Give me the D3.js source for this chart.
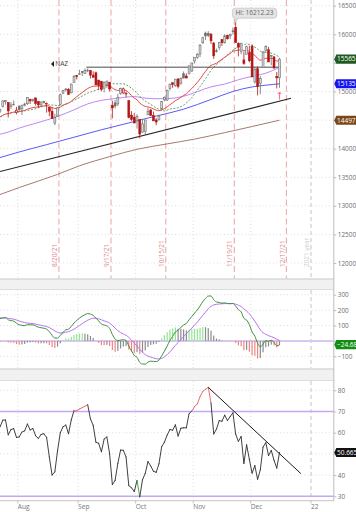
<!DOCTYPE html>
<html><head><meta charset="utf-8">
<script src="https://cdn.jsdelivr.net/npm/d3@7/dist/d3.min.js"></script>
<style>html,body{margin:0;padding:0;background:#fff}svg{display:block}text{font-family:"Open Sans","DejaVu Sans",sans-serif}</style>
</head><body><svg id="chart" width="356" height="512"></svg>
<script>
// ---------- DATA (Nasdaq Composite, daily, bar index 0 = 2021-07-21) ----------
const dates = ["2021-07-21","2021-07-22","2021-07-23","2021-07-26","2021-07-27","2021-07-28","2021-07-29","2021-07-30",
"2021-08-02","2021-08-03","2021-08-04","2021-08-05","2021-08-06","2021-08-09","2021-08-10","2021-08-11","2021-08-12","2021-08-13","2021-08-16","2021-08-17","2021-08-18","2021-08-19","2021-08-20","2021-08-23","2021-08-24","2021-08-25","2021-08-26","2021-08-27","2021-08-30","2021-08-31",
"2021-09-01","2021-09-02","2021-09-03","2021-09-07","2021-09-08","2021-09-09","2021-09-10","2021-09-13","2021-09-14","2021-09-15","2021-09-16","2021-09-17","2021-09-20","2021-09-21","2021-09-22","2021-09-23","2021-09-24","2021-09-27","2021-09-28","2021-09-29","2021-09-30",
"2021-10-01","2021-10-04","2021-10-05","2021-10-06","2021-10-07","2021-10-08","2021-10-11","2021-10-12","2021-10-13","2021-10-14","2021-10-15","2021-10-18","2021-10-19","2021-10-20","2021-10-21","2021-10-22","2021-10-25","2021-10-26","2021-10-27","2021-10-28","2021-10-29",
"2021-11-01","2021-11-02","2021-11-03","2021-11-04","2021-11-05","2021-11-08","2021-11-09","2021-11-10","2021-11-11","2021-11-12","2021-11-15","2021-11-16","2021-11-17","2021-11-18","2021-11-19","2021-11-22","2021-11-23","2021-11-24","2021-11-26","2021-11-29","2021-11-30",
"2021-12-01","2021-12-02","2021-12-03","2021-12-06","2021-12-07","2021-12-08","2021-12-09","2021-12-10","2021-12-13","2021-12-14","2021-12-15"];
const open = [14548,14656,14740,14819,14808,14735,14777,14630,
14741,14697,14756,14786,14860,14860,14888,14826,14765,14825,14788,14719,14653,14447,14571,14773,14972,15032,15035,14975,15159,15278,
15300,15346,15318,15364,15365,15286,15327,15200,15177,15058,15124,15161,14758,14800,14783,14963,14975,14963,14839,14586,14549,
14485,14510,14290,14302,14592,14676,14577,14502,14507,14694,14854,14850,15052,15153,15100,15219,15144,15310,15270,15313,15358,
15534,15594,15656,15853,16020,16017,16003,15848,15713,15770,15908,15850,15981,15972,16060,16123,15839,15700,15552,15652,15678,
15788,15165,15397,15140,15420,15717,15730,15620,15604,15265,15240];
const high = [14636,14701,14840,14844,14812,14815,14843,14732,
14761,14764,14803,14897,14875,14874,14890,14827,14824,14836,14806,14727,14722,14609,14729,14963,15026,15061,15058,15137,15288,15283,
15379,15356,15403,15403,15367,15353,15349,15201,15186,15176,15188,15165,14841,14852,14958,15066,15070,14997,14840,14656,14625,
14601,14510,14518,14504,14714,14695,14650,14532,14591,14828,14913,15030,15134,15155,15217,15232,15244,15351,15317,15452,15504,
15598,15675,15828,15957,16047,16057,16018,15862,15751,15866,15909,15998,15992,16011,16120,16212.23,15859,15848,15695,15800,15800,
15822,15430,15440,15271,15710,15808,15780,15640,15620,15340,15589];
const low = [14540,14620,14720,14770,14546,14695,14763,14600,
14649,14588,14739,14764,14781,14817,14755,14718,14733,14787,14631,14568,14520,14410,14557,14765,14952,15001,14944,14971,15158,15210,
15290,15270,15306,15337,15228,15248,15113,15025,15002,14985,15063,14998,14530,14702,14743,14941,14953,14898,14530,14486,14446,
14350,14181,14275,14236,14591,14570,14484,14410,14488,14690,14828,14835,15018,15064,15080,15053,15120,15228,15232,15296,15342,
15490,15569,15601,15831,15901,15949,15830,15570,15680,15726,15796,15843,15910,15916,15997,15851,15614,15651,15466,15650,15511,
15253,15141,14931,14952,15420,15672,15516,15458,15392,15053,15064];
const close = [14631.95,14684.60,14836.99,14840.71,14660.58,14762.58,14778.26,14672.68,
14681.07,14761.29,14780.53,14895.12,14835.76,14860.18,14788.09,14765.14,14816.26,14822.90,14793.76,14656.18,14525.91,14541.79,14714.66,14942.65,15019.80,15041.86,14945.81,15129.50,15265.89,15259.24,
15309.38,15331.18,15363.52,15374.33,15286.64,15248.25,15115.49,15105.58,15037.76,15161.53,15181.92,15043.97,14713.90,14746.40,14896.85,15052.24,15047.70,14969.97,14546.68,14512.44,14448.58,
14566.70,14255.49,14433.83,14501.91,14654.02,14579.54,14486.20,14465.92,14571.64,14823.43,14897.34,15021.81,15129.09,15121.68,15215.70,15090.20,15226.71,15235.84,15235.72,15448.12,15498.39,
15595.92,15649.60,15811.58,15940.31,15971.59,15982.36,15886.54,15622.71,15704.28,15860.96,15853.85,15973.86,15921.57,15993.71,16057.44,15854.76,15775.14,15845.23,15491.66,15782.83,15537.69,
15254.05,15381.32,15085.47,15225.15,15686.92,15786.99,15517.37,15630.60,15413.28,15237.64,15565.58];
// moving averages
const ema20 = [14539.7,14553.5,14580.4,14605.1,14610.4,14624.9,14639.5,14642.7,
14646.3,14657.2,14668.9,14690.4,14704.2,14719.0,14725.6,14729.4,14737.7,14745.8,14750.4,14741.4,14720.9,14703.9,14704.9,14727.5,14755.3,14782.5,14798.0,14829.5,14871.0,14907.9,
14946.0,14982.6,15018.8,15052.6,15074.8,15091.3,15093.6,15094.7,15089.3,15096.2,15104.3,15098.6,15062.1,15032.1,15019.2,15022.3,15024.7,15019.5,14974.6,14930.7,14884.9,
14854.7,14797.8,14763.2,14738.4,14730.4,14716.1,14694.3,14672.6,14663.0,14678.2,14699.0,14729.7,14767.6,14801.2,14840.6,14864.3,14898.7,14930.7,14959.7,15006.1,15052.9,
15104.5,15156.3,15218.6,15287.2,15352.2,15412.1,15457.2,15472.9,15494.9,15529.7,15560.5,15599.8,15630.4,15664.9,15702.2,15716.7,15722.2,15733.9,15710.9,15717.7,15700.6,
15658.2,15631.9,15580.0,15546.3,15559.7,15581.3,15575.2,15580.5,15564.6,15533.5,15536.5];
const sma20Bar = [0,1,3,8,13,18,19,23,28,33,38,41,43,46,48,51,53,56,58,61,63,66,68,71,73,76,78,81,83,86,88,90,91,93,95,96,98,99,101,103];
const sma20Val = [14536,14557,14604,14647,14687,14758,14766,14753,14845,14970,15061,15144,15134,15134,15090,14971,14869,14773,14713,14659,14693,14715,14762,14895,15022,15222,15368,15512,15596,15724,15782,15815,15829,15806,15742,15705,15685,15680,15653,15602];
const sma50Bar = [0,4,8,13,18,22,28,33,38,43,50,53,58,63,68,73,78,83,88,93,98,103];
const sma50Val = [14240,14290,14360,14430,14500,14563,14679,14783,14845,14876,14911,14889,14872,14878,14916,14997,15081,15129,15205,15266,15319,15422];
const sma100Bar = [0,8,18,28,38,48,52,58,68,78,86,93,98,103];
const sma100Val = [13830,13942,14070,14200,14330,14450,14500,14570,14690,14860,15000,15080,15110,15135];
const sma200Bar = [0,8,22,30,41,51,62,72,83,93,103];
const sma200Val = [13180,13320,13550,13700,13860,13989,14083,14167,14280,14387,14497];
// MACD(12,26,9)
const macd = [152.2,144.5,149,151.2,136.8,132.1,128.2,115.2,
104.4,101.1,99,105.3,104.3,104.3,97.4,89,85.6,82.3,76.5,60.2,36.3,18.4,18,35.6,55.1,71.6,76,93.2,116.5,132.9,
148.2,160.3,170.5,177.4,173.9,166,147.4,130.4,110.1,102.8,97.6,81.4,41.5,12.3,1.3,5,7.5,3.2,-33.9,-65.4,-94.4,
-106.6,-139.7,-149.9,-150.8,-137.6,-131.7,-133,-134.1,-125,-96.3,-66.9,-33.2,2.2,29.3,57.7,69.3,88.5,103.2,113.5,137.3,158.3,
180.8,200.6,226.7,254.9,276.5,291.2,291.8,267.8,252.5,250.1,244.8,247.4,242.5,241.6,243.2,225.6,202.9,188.4,146.6,135.4,105.6,
58.4,30.9,-14.6,-38.9,-20.7,1.8,-2.1,3.9,-8.8,-32.6,-24.68];
const signal = [150.4,149.2,149.2,149.6,147.0,144.0,140.9,135.8,
129.5,123.8,118.8,116.1,113.8,111.9,109.0,105.0,101.1,97.4,93.2,86.6,76.5,64.9,55.5,51.5,52.2,56.1,60.1,66.7,76.7,87.9,
100.0,112.0,123.7,134.4,142.3,147.0,147.1,143.8,137.0,130.2,123.7,115.2,100.5,82.9,66.6,54.3,44.9,36.6,22.5,4.9,-14.9,
-33.2,-54.5,-73.6,-89.0,-98.7,-105.3,-110.8,-115.5,-117.4,-113.2,-103.9,-89.8,-71.4,-51.3,-29.5,-9.7,9.9,28.6,45.6,63.9,82.8,
102.4,122.0,142.9,165.3,187.5,208.2,224.9,233.5,237.3,239.9,240.9,242.2,242.3,242.2,242.4,239.0,231.8,223.1,207.8,193.3,175.8,
152.3,128.0,99.5,71.8,53.3,43.0,34.0,28.0,20.6,10.0,3.0];
// RSI(14)
const rsi = [61.5,62.7,65.9,66.0,59.0,61.5,61.9,57.8,
58.0,60.3,60.9,64.1,61.3,62.0,58.5,57.3,59.2,59.5,57.8,48.5,40.0,41.5,51.5,60.0,62.8,63.6,59.5,66.0,70.4,70.3,
71.2,71.8,72.5,73.2,66.5,63.5,55.5,55.0,51.0,57.0,58.0,50.0,35.5,37.5,45.5,51.8,51.7,48.5,35.0,34.0,32.2,
37.5,29.7,37.8,40.8,46.4,44.3,41.8,41.3,45.3,53.4,55.5,58.9,61.5,61.2,63.7,58.4,62.1,62.3,62.3,69.0,70.2,
72.3,73.5,77.0,79.5,80.5,81.4,74.0,59.4,61.7,65.7,65.4,68.3,65.7,67.6,69.4,59.3,55.9,58.2,45.5,54.3,47.4,
40.9,44.5,38.0,42.5,53.2,55.3,49.2,51.6,47.0,43.3,50.665];
// axis / annotation data
const monthNames = ["Aug","Sep","Oct","Nov","Dec","22"];
const monthFirstBar = [8,30,51,72,93,115];
const eventLabels = ["8/20/21","9/17/21","10/15/21","11/19/21","12/17/21"];
const eventBar = [22,41,61,86,105];
const priceTicks = [12000,12500,13000,13500,14000,14500,15000,15500,16000,16500];
const priceLabelTicks = [12000,12500,13000,13500,14000,15000,16000,16500];
const macdTicks = [-100,0,100,200,300];
const macdLabelTicks = [-100,100,200,300];
const rsiTicks = [30,40,50,60,70,80];
const rsiLabelTicks = [30,40,60,70,80];
const trendBar = [1,107.2], trendVal = [13600,14880];
const resistBar = [32.5,103.5], resistVal = [15425,15425];
const rsiTrendBar = [77,110.8], rsiTrendVal = [81.4,40.7];
const hiBar = 87, hiValue = 16212.23;
const lastClose = 15565.58, lastSma100 = 15135, lastSma200 = 14497;
const lastMacd = -24.68, lastRsi = 50.665;

// ---------- LAYOUT ----------
const svg = d3.select("#chart");
const AX = 333.8;
const x = d3.scaleLinear().domain([8, 108]).range([19.2, 293.2]);
const yP = d3.scaleLinear().domain([12000, 16000]).range([263, 34.3]);
const yM = d3.scaleLinear().domain([-100, 300]).range([356.3, 294.7]);
const yR = d3.scaleLinear().domain([30, 80]).range([496.3, 390.3]);
const panels = {main:[0,278.5], macd:[290,368.5], rsi:[381,500.7]};

svg.append("rect").attr("width",356).attr("height",512).attr("fill","#fff");
const defs = svg.append("defs");
Object.entries(panels).forEach(([k,[a,b]])=>{
  defs.append("clipPath").attr("id","clip-"+k).append("rect").attr("x",0).attr("y",a).attr("width",AX).attr("height",b-a);
});
// header strips
[[278.5,290],[368.5,381]].forEach(([a,b])=>{
  svg.append("rect").attr("x",0).attr("y",a).attr("width",AX).attr("height",b-a).attr("fill","#f1f1f1");
  svg.append("line").attr("x1",0).attr("x2",AX).attr("y1",a+0.5).attr("y2",a+0.5).attr("stroke","#cccccc");
  svg.append("line").attr("x1",0).attr("x2",AX).attr("y1",b-0.5).attr("y2",b-0.5).attr("stroke","#dddddd");
});

const gridCol = "#d4d4d4";
function vGrid(panel){
  const [a,b] = panels[panel];
  const g = svg.append("g").attr("clip-path",`url(#clip-${panel})`);
  monthFirstBar.forEach((m,i)=>{
    const isYear = i===monthFirstBar.length-1;
    g.append("line").attr("x1",x(m-0.5)).attr("x2",x(m-0.5)).attr("y1",a).attr("y2",b)
      .attr("stroke", isYear ? "#c4c4c4" : gridCol).attr("stroke-width", isYear?1:0.8)
      .attr("stroke-dasharray", isYear ? "4,3" : "1,2.5");
  });
  return g;
}
function hGrid(panel, scale, ticks, skip){
  const g = svg.append("g").attr("clip-path",`url(#clip-${panel})`);
  ticks.filter(t=>!skip.includes(t)).forEach(t=>{
    g.append("line").attr("x1",0).attr("x2",AX).attr("y1",scale(t)).attr("y2",scale(t))
      .attr("stroke",gridCol).attr("stroke-width",0.8).attr("stroke-dasharray","1,2.5");
  });
}
vGrid("main"); vGrid("macd"); vGrid("rsi");
hGrid("main", yP, priceTicks, []);
hGrid("macd", yM, macdTicks, [0]);
hGrid("rsi", yR, rsiTicks, [30,70]);

// ---------- MAIN PANEL ----------
const gm = svg.append("g").attr("clip-path","url(#clip-main)");
eventBar.forEach((b,i)=>{
  const xx = x(b+0.5);
  gm.append("line").attr("x1",xx).attr("x2",xx).attr("y1",0).attr("y2",278.5)
    .attr("stroke","#e9a3a3").attr("stroke-width",1).attr("stroke-dasharray","6,3.5");
  gm.append("text").attr("transform",`translate(${xx-1.8},267) rotate(-90)`)
    .attr("font-size",6.4).attr("fill","#dc8a8a").text(eventLabels[i]);
});
gm.append("text").attr("transform",`translate(${x(monthFirstBar[5]-0.5)-1.6},267) rotate(-90)`)
  .attr("font-size",6.4).attr("fill","#cfcfcf").text("2021 year");

const lineSparse = (bars, vals, ys) => d3.line().curve(d3.curveMonotoneX)(bars.map((b,i)=>[x(b), ys(vals[i])]));
gm.append("path").attr("d",lineSparse(sma200Bar,sma200Val,yP)).attr("fill","none").attr("stroke","#a57a6c").attr("stroke-width",1);
gm.append("path").attr("d",lineSparse(sma100Bar,sma100Val,yP)).attr("fill","none").attr("stroke","#5a5af5").attr("stroke-width",1);
gm.append("path").attr("d",lineSparse(sma50Bar,sma50Val,yP)).attr("fill","none").attr("stroke","#c088f5").attr("stroke-width",1);
gm.append("path").attr("d",lineSparse(sma20Bar,sma20Val,yP)).attr("fill","none").attr("stroke","#6aa06a").attr("stroke-width",1).attr("stroke-dasharray","2,1.5");
gm.append("path").attr("d",d3.line().curve(d3.curveMonotoneX)(ema20.map((v,i)=>[x(i),yP(v)]))).attr("fill","none").attr("stroke","#e84848").attr("stroke-width",1);

gm.append("line").attr("x1",x(trendBar[0])).attr("x2",x(trendBar[1])).attr("y1",yP(trendVal[0])).attr("y2",yP(trendVal[1]))
  .attr("stroke","#262626").attr("stroke-width",1.1);
gm.append("line").attr("x1",x(resistBar[0])).attr("x2",x(resistBar[1])).attr("y1",yP(resistVal[0])).attr("y2",yP(resistVal[1]))
  .attr("stroke","#4a4a4a").attr("stroke-width",1);

// candles
const bw = 1.9;
close.forEach((c,i)=>{
  const o = open[i], h = high[i], l = low[i];
  const prev = i>0 ? close[i-1] : o;
  const up = c >= prev;
  const hollow = c > o;
  const col = up ? "#6e6e6e" : "#b51414";
  const xx = x(i);
  gm.append("line").attr("x1",xx).attr("x2",xx).attr("y1",yP(h)).attr("y2",yP(l)).attr("stroke",col).attr("stroke-width",0.8);
  const top = yP(Math.max(o,c)), bot = yP(Math.min(o,c));
  gm.append("rect").attr("x",xx-bw/2).attr("y",top).attr("width",bw).attr("height",Math.max(0.8,bot-top))
    .attr("fill", hollow ? (up ? "#d9d9d9" : "#f2c4c4") : col)
    .attr("stroke", col).attr("stroke-width",0.6);
});

// NAZ annotation
gm.append("path").attr("d",`M${x(19.6)},${yP(15480)} l3,-3 l0,6 z`).attr("fill","#222");
gm.append("text").attr("x",x(19.6)+4.2).attr("y",yP(15480)+2.4).attr("font-size",6.6).attr("fill","#444").text("NAZ");

// Hi callout
{
  const hx = x(hiBar), hy = yP(hiValue);
  const bx = hx-3.3, by = hy-14, bwid = 44.4, bh = 10;
  gm.append("path").attr("d",`M${hx-0.8},${by+bh-0.5} L${hx+3},${by+bh-0.5} L${hx},${hy-0.3} Z`).attr("fill","#e4e4e4").attr("stroke","#b8b8b8").attr("stroke-width",0.6);
  gm.append("rect").attr("x",bx).attr("y",by).attr("width",bwid).attr("height",bh).attr("rx",3)
    .attr("fill","#e4e4e4").attr("stroke","#b8b8b8").attr("stroke-width",0.6);
  gm.append("rect").attr("x",hx-0.4).attr("y",by+bh-1.4).attr("width",3).attr("height",1.6).attr("fill","#e4e4e4");
  gm.append("text").attr("x",bx+bwid/2).attr("y",by+bh/2+2.3).attr("text-anchor","middle")
    .attr("font-size",6.6).attr("fill","#666").text("Hi: " + d3.format(".2f")(hiValue));
}
// buy arrow under the last bar
{
  const ax = x(close.length-1);
  gm.append("line").attr("x1",ax).attr("x2",ax).attr("y1",yP(14860)).attr("y2",yP(14975)).attr("stroke","#ff6f8f").attr("stroke-width",1.2);
  gm.append("path").attr("d",`M${ax-2.6},${yP(14960)} L${ax},${yP(14995)} L${ax+2.6},${yP(14960)} Z`).attr("fill","#ff6f8f");
}

// ---------- MACD PANEL ----------
const gM = svg.append("g").attr("clip-path","url(#clip-macd)");
gM.append("line").attr("x1",0).attr("x2",AX).attr("y1",yM(0)).attr("y2",yM(0)).attr("stroke","#d9c8f2").attr("stroke-width",2);
const hist = macd.map((m,i)=>m - signal[i]);
hist.forEach((h,i)=>{
  const prev = i>0 ? hist[i-1] : h;
  let col;
  if (h >= 0) col = h >= prev ? "#93e493" : "#8c8c8c";
  else col = h <= prev ? "#f08484" : "#8c8c8c";
  const y0 = yM(0), y1 = yM(h);
  gM.append("rect").attr("x",x(i)-0.6).attr("y",Math.min(y0,y1)).attr("width",1.2).attr("height",Math.abs(y1-y0)).attr("fill",col);
});
gM.append("path").attr("d",d3.line().curve(d3.curveMonotoneX)(signal.map((v,i)=>[x(i),yM(v)]))).attr("fill","none").attr("stroke","#b872f2").attr("stroke-width",1);
gM.append("path").attr("d",d3.line().curve(d3.curveMonotoneX)(macd.map((v,i)=>[x(i),yM(v)]))).attr("fill","none").attr("stroke","#3f8f3f").attr("stroke-width",1);

// ---------- RSI PANEL ----------
const gR = svg.append("g").attr("clip-path","url(#clip-rsi)");
[70,30].forEach(v=>gR.append("line").attr("x1",0).attr("x2",AX).attr("y1",yR(v)).attr("y2",yR(v)).attr("stroke","#c6a6f6").attr("stroke-width",1.4));
for (let i=1;i<rsi.length;i++){
  const a = rsi[i-1], b = rsi[i];
  let col = "#2a2a2a";
  if (a>=70 && b>=70) col = "#e06060";
  else if (b<30) col = "#3c9a3c";
  gR.append("line").attr("x1",x(i-1)).attr("x2",x(i)).attr("y1",yR(a)).attr("y2",yR(b)).attr("stroke",col).attr("stroke-width",0.9).attr("stroke-linecap","round");
}
gR.append("line").attr("x1",x(rsiTrendBar[0])).attr("x2",x(rsiTrendBar[1])).attr("y1",yR(rsiTrendVal[0])).attr("y2",yR(rsiTrendVal[1]))
  .attr("stroke","#1a1a1a").attr("stroke-width",1);

// ---------- AXES ----------
svg.append("line").attr("x1",AX).attr("x2",AX).attr("y1",0).attr("y2",501).attr("stroke","#bdbdbd").attr("stroke-width",1);
function rightAxis(scale, ticks, labelTicks){
  const g = svg.append("g").attr("transform",`translate(${AX},0)`)
    .call(d3.axisRight(scale).tickValues(ticks).tickSize(2.5).tickPadding(1.5)
      .tickFormat(t => labelTicks.includes(t) ? d3.format("d")(t) : ""));
  g.select(".domain").remove();
  g.selectAll(".tick line").attr("stroke","#bdbdbd");
  g.selectAll(".tick text").attr("font-size",6.4).attr("fill","#6d6d6d").attr("font-family",'"Open Sans","DejaVu Sans",sans-serif');
  g.selectAll(".tick text").filter(function(){ return this.textContent === ""; }).remove();
}
rightAxis(yP, priceTicks, priceLabelTicks);
rightAxis(yM, macdTicks, macdLabelTicks);
rightAxis(yR, rsiTicks, rsiLabelTicks);

// bottom axis
svg.append("line").attr("x1",0).attr("x2",AX).attr("y1",500.7).attr("y2",500.7).attr("stroke","#c4c4c4");
monthFirstBar.forEach((m,i)=>{
  const xx = x(m-0.5);
  svg.append("line").attr("x1",xx).attr("x2",xx).attr("y1",500.7).attr("y2",503.5).attr("stroke","#c4c4c4");
  svg.append("text").attr("x",xx).attr("y",509.3).attr("font-size",6.6).attr("fill","#777").text(monthNames[i]);
});

// value labels on right axis
function valueBox(y, txt, fill){
  svg.append("path").attr("d",`M${AX+0.5},${y} L${AX+2.5},${y-4.6} L356,${y-4.6} L356,${y+4.6} L${AX+2.5},${y+4.6} Z`).attr("fill",fill);
  svg.append("text").attr("x",AX+3.2).attr("y",y+2.3).attr("font-size",6.5).attr("fill","#fff").text(txt);
}
valueBox(yP(lastClose), d3.format("d")(Math.floor(lastClose)), "#1f5a1f");
valueBox(yP(lastSma100), d3.format("d")(lastSma100), "#1414f0");
valueBox(yP(lastSma200), d3.format("d")(lastSma200), "#7a4816");
valueBox(yM(lastMacd), d3.format(".2f")(lastMacd), "#128e12");
valueBox(yR(lastRsi), d3.format(".3f")(lastRsi), "#111");
</script></body></html>
